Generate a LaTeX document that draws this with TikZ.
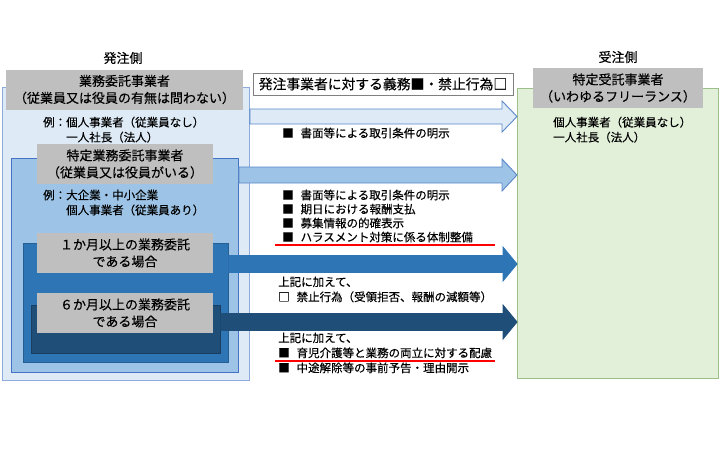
\documentclass[tikz,border=0pt]{standalone}
\usepackage{fontspec}
\setmainfont{Noto Sans CJK JP}[FakeBold=0.3]
\usepackage{tikz}
\usetikzlibrary{positioning}

\definecolor{paleblue}{HTML}{DEEBF7}
\definecolor{skyblue}{HTML}{9DC3E6}
\definecolor{deepblue}{HTML}{2E75B6}
\definecolor{navyblue}{HTML}{1F4E79}
\definecolor{outerline}{HTML}{8FAADC}
\definecolor{midline}{HTML}{4472C4}
\definecolor{arrowline}{HTML}{5B87C9}
\definecolor{palegreen}{HTML}{E2F0D9}
\definecolor{greenline}{HTML}{9DBF8B}
\definecolor{titlegray}{HTML}{BFBFBF}
\definecolor{headgray}{HTML}{7F7F7F}

\begin{document}
\begin{tikzpicture}[x=1pt, y=-1pt,
    box/.style = {draw, line width=0.8pt, anchor=north west, inner sep=0pt},
    title/.style = {fill=titlegray, minimum height=40, inner sep=0pt, align=center, font=\fontsize{13}{17}\selectfont},
    note/.style = {anchor=north west, inner sep=0pt, align=left, font=\fontsize{11.5}{15}\selectfont},
    side/.style = {font=\fontsize{13}{16}\selectfont},
    bigarrow/.style = {line width=0.9pt, line join=miter},
    redline/.style = {draw=red, line width=2pt}]

    \useasboundingbox (0,0) rectangle (720,450);

    % boxes
    \node[box, draw=outerline, fill=paleblue, minimum width=247, minimum height=293] (1) at (2,87) {};
    \node[box, draw=midline, fill=skyblue, minimum width=227, minimum height=214] (2) at (11,158) {};
    \node[box, draw=deepblue!80!black, fill=deepblue, minimum width=205, minimum height=119] (3) at (23,243) {};
    \node[box, draw=navyblue!80!black, fill=navyblue, minimum width=189, minimum height=48] (4) at (31,305) {};
    \node[box, draw=greenline, fill=palegreen, minimum width=201, minimum height=290] (5) at (517,88) {};

    % titles
    \node[side] (s1) at (123,58) {発注側};
    \node[side] (s2) at (618,57) {受注側};
    \node[title, minimum width=237] (t1) at (124.5,89.5) {業務委託事業者\\（従業員又は役員の有無は問わない）};
    \node[title, minimum width=176] (t2) at (125,164) {特定業務委託事業者\\（従業員又は役員がいる）};
    \node[title, minimum width=176] (t3) at (125,253) {１か月以上の業務委託\\である場合};
    \node[title, minimum width=176] (t4) at (125,313) {６か月以上の業務委託\\である場合};
    \node[title, minimum width=170] (t5) at (618,88) {特定受託事業者\\（いわゆるフリーランス）};
    \node[draw=headgray, fill=white, minimum width=260, minimum height=22, inner sep=0pt,
          font=\fontsize{13.8}{16}\selectfont] (h) at (383,84) {発注事業者に対する義務■・禁止行為□};

    % examples
    \node[note] (n1) at (43,116.5) {例：個人事業者（従業員なし）\\\hspace*{2em}一人社長（法人）};
    \node[note] (n2) at (43,189.5) {例：大企業・中小企業\\\hspace*{2em}個人事業者（従業員あり）};
    \node[note] (n3) at (553,116.5) {個人事業者（従業員なし）\\一人社長（法人）};

    % arrows
    \draw[bigarrow, draw=arrowline, fill=paleblue] (1.east |- 0,109) -- (502,109) -- (502,101)
        -- (5.west |- 0,116.5) -- (502,132) -- (502,124) -- (1.east |- 0,124) -- cycle;
    \draw[bigarrow, draw=arrowline, fill=skyblue] (2.east |- 0,167) -- (502,167) -- (502,159)
        -- (5.west |- 0,175) -- (502,191) -- (502,183) -- (2.east |- 0,183) -- cycle;
    \draw[bigarrow, draw=deepblue, fill=deepblue] (3.east |- 0,255.5) -- (503,255.5) -- (503,247)
        -- (5.west |- 0,264) -- (503,281) -- (503,272.5) -- (3.east |- 0,272.5) -- cycle;
    \draw[bigarrow, draw=navyblue, fill=navyblue] (4.east |- 0,313.5) -- (503,313.5) -- (503,305)
        -- (5.west |- 0,322) -- (503,339) -- (503,330.5) -- (4.east |- 0,330.5) -- cycle;

    % duties
    \node[note] (m1) at (282,127.5) {■\hspace{0.6em}書面等による取引条件の明示};
    \node[note, font=\fontsize{11.5}{14}\selectfont] (m2) at (282,189.5)
        {■\hspace{0.6em}書面等による取引条件の明示\\■\hspace{0.6em}期日における報酬支払\\■\hspace{0.6em}募集情報の的確表示\\■\hspace{0.6em}ハラスメント対策に係る体制整備};
    \node[note] (m3) at (278,276.5) {上記に加えて、\\□\hspace{0.6em}禁止行為（受領拒否、報酬の減額等）};
    \node[note] (m4) at (278,332.5) {上記に加えて、\\■\hspace{0.6em}育児介護等と業務の両立に対する配慮\\■\hspace{0.6em}中途解除等の事前予告・理由開示};

    \coordinate (u1) at (275,245);
    \coordinate (u2) at (495,245);
    \coordinate (u3) at (275,361);
    \coordinate (u4) at (495,361);
    \draw[redline] (u1) -- (u2);
    \draw[redline] (u3) -- (u4);

\end{tikzpicture}
\end{document}
